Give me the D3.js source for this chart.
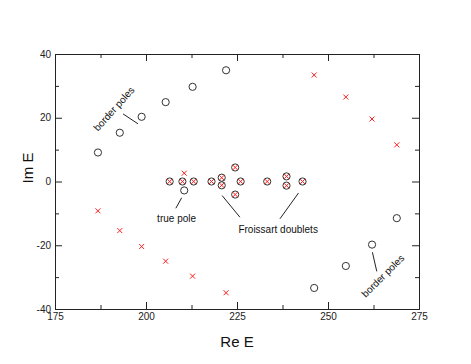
<!DOCTYPE html>
<html>
<head>
<meta charset="utf-8">
<script src="https://cdn.jsdelivr.net/npm/d3@7"></script>
<style>
  body { margin: 0; background: #fff; }
  text { font-family: "Liberation Sans", Arial, sans-serif; }
</style>
</head>
<body>
<div id="chart"></div>
<script>
// poles (open circles): border poles + the true pole
const poleRe = [186.8, 192.8, 198.8, 205.4, 212.8, 222.0, 246.2, 254.9, 262.1, 268.9, 210.5];
const poleIm = [9.1, 15.3, 20.3, 24.9, 29.7, 34.9, -33.4, -26.5, -19.8, -11.5, -2.8];

// zeros (red crosses), roughly conjugate to the poles
const zeroRe = [186.8, 192.8, 198.8, 205.4, 212.8, 222.0, 246.2, 254.9, 262.1, 268.9, 210.5];
const zeroIm = [-9.2, -15.4, -20.4, -25.0, -29.7, -34.9, 33.4, 26.5, 19.6, 11.5, 2.6];

// Froissart doublets (pole and zero on top of each other)
const doubletRe = [206.5, 210.0, 213.1, 218.0, 220.8, 220.8, 224.5, 224.5, 226.0, 233.3, 238.6, 238.6, 243.0];
const doubletIm = [0, 0, 0, 0, 1.2, -1.2, 4.4, -4.1, 0, 0, 1.6, -1.3, 0];

const xTicks = [175, 200, 225, 250, 275];
const yTicks = [-40, -20, 0, 20, 40];
const xMinor = [187.5, 212.5, 237.5, 262.5];
const yMinor = [-30, -10, 10, 30];

const width = 471, height = 364;
const margin = { top: 54, right: 52, bottom: 55, left: 55 };

const svg = d3.select("#chart").append("svg")
  .attr("width", width)
  .attr("height", height);

const x = d3.scaleLinear().domain([175, 275]).range([margin.left, width - margin.right]);
const y = d3.scaleLinear().domain([-40, 40]).range([height - margin.bottom, margin.top]);

// plain hyphen for negatives, like the original
const plain = d => String(d);

// axes on all four sides, ticks pointing inward
function styleAxis(g) {
  g.select(".domain").attr("stroke", "#222");
  g.selectAll(".tick line").attr("stroke", "#222");
  g.selectAll("text").attr("font-size", 10).attr("fill", "#222")
    .attr("font-family", "Liberation Sans, Arial, sans-serif");
}

svg.append("g")
  .attr("transform", `translate(0,${height - margin.bottom})`)
  .call(d3.axisBottom(x).tickValues(xTicks).tickSizeInner(-7).tickSizeOuter(0).tickPadding(4).tickFormat(plain))
  .call(styleAxis);
svg.append("g")
  .attr("transform", `translate(0,${height - margin.bottom})`)
  .call(d3.axisBottom(x).tickValues(xMinor).tickSizeInner(-4).tickSizeOuter(0).tickFormat(""))
  .call(styleAxis);
svg.append("g")
  .attr("transform", `translate(0,${margin.top})`)
  .call(d3.axisTop(x).tickValues(xTicks).tickSizeInner(-7).tickSizeOuter(0).tickFormat(""))
  .call(styleAxis);
svg.append("g")
  .attr("transform", `translate(0,${margin.top})`)
  .call(d3.axisTop(x).tickValues(xMinor).tickSizeInner(-4).tickSizeOuter(0).tickFormat(""))
  .call(styleAxis);

svg.append("g")
  .attr("transform", `translate(${margin.left},0)`)
  .call(d3.axisLeft(y).tickValues(yTicks).tickSizeInner(-7).tickSizeOuter(0).tickPadding(4).tickFormat(plain))
  .call(styleAxis);
svg.append("g")
  .attr("transform", `translate(${margin.left},0)`)
  .call(d3.axisLeft(y).tickValues(yMinor).tickSizeInner(-4).tickSizeOuter(0).tickFormat(""))
  .call(styleAxis);
svg.append("g")
  .attr("transform", `translate(${width - margin.right},0)`)
  .call(d3.axisRight(y).tickValues(yTicks).tickSizeInner(-7).tickSizeOuter(0).tickFormat(""))
  .call(styleAxis);
svg.append("g")
  .attr("transform", `translate(${width - margin.right},0)`)
  .call(d3.axisRight(y).tickValues(yMinor).tickSizeInner(-4).tickSizeOuter(0).tickFormat(""))
  .call(styleAxis);

// axis titles
svg.append("text")
  .attr("x", (x.range()[0] + x.range()[1]) / 2)
  .attr("y", 347)
  .attr("text-anchor", "middle")
  .attr("font-size", 15)
  .attr("fill", "#111")
  .text("Re E");

svg.append("text")
  .attr("transform", "translate(33,168) rotate(-90)")
  .attr("text-anchor", "middle")
  .attr("font-size", 15)
  .attr("fill", "#111")
  .text("Im E");

// crosses: a little "x" path drawn around each point
const cross = 2.5;
function drawCrosses(re, im) {
  svg.append("g").selectAll("path")
    .data(d3.range(re.length))
    .enter().append("path")
    .attr("d", function (i) {
      const cx = x(re[i]), cy = y(im[i]);
      return `M${cx - cross},${cy - cross}L${cx + cross},${cy + cross}M${cx - cross},${cy + cross}L${cx + cross},${cy - cross}`;
    })
    .attr("stroke", "#ff1f1f")
    .attr("stroke-width", 1)
    .attr("fill", "none");
}

function drawCircles(re, im) {
  svg.append("g").selectAll("circle")
    .data(d3.range(re.length))
    .enter().append("circle")
    .attr("cx", i => x(re[i]))
    .attr("cy", i => y(im[i]))
    .attr("r", 3.6)
    .attr("fill", "none")
    .attr("stroke", "#333")
    .attr("stroke-width", 1);
}

drawCircles(poleRe, poleIm);
drawCrosses(zeroRe, zeroIm);
drawCircles(doubletRe, doubletIm);
drawCrosses(doubletRe, doubletIm);

// annotations (data coordinates)
const leaders = [
  [[193.7, 21.2], [197.8, 18.1]],
  [[209.8, -5.1], [208.2, -8.4]],
  [[220.9, -4.4], [225.8, -11.2]],
  [[241.9, -3.6], [236.8, -11.7]],
  [[262.2, -22.2], [263.4, -28.2]]
];
svg.append("g").selectAll("line")
  .data(leaders)
  .enter().append("line")
  .attr("x1", d => x(d[0][0]))
  .attr("y1", d => y(d[0][1]))
  .attr("x2", d => x(d[1][0]))
  .attr("y2", d => y(d[1][1]))
  .attr("stroke", "#222")
  .attr("stroke-width", 1);

const notes = [
  { text: "border poles", re: 191.2, im: 22.8, angle: -48 },
  { text: "true pole", re: 208.4, im: -11.5, angle: 0 },
  { text: "Froissart doublets", re: 236.3, im: -15.2, angle: 0 },
  { text: "border poles", re: 265.1, im: -29.6, angle: -45 }
];
svg.append("g").selectAll("text")
  .data(notes)
  .enter().append("text")
  .attr("transform", d => `translate(${x(d.re)},${y(d.im)}) rotate(${d.angle})`)
  .attr("text-anchor", "middle")
  .attr("dy", "0.35em")
  .attr("font-size", 10)
  .attr("fill", "#111")
  .text(d => d.text);
</script>
</body>
</html>
